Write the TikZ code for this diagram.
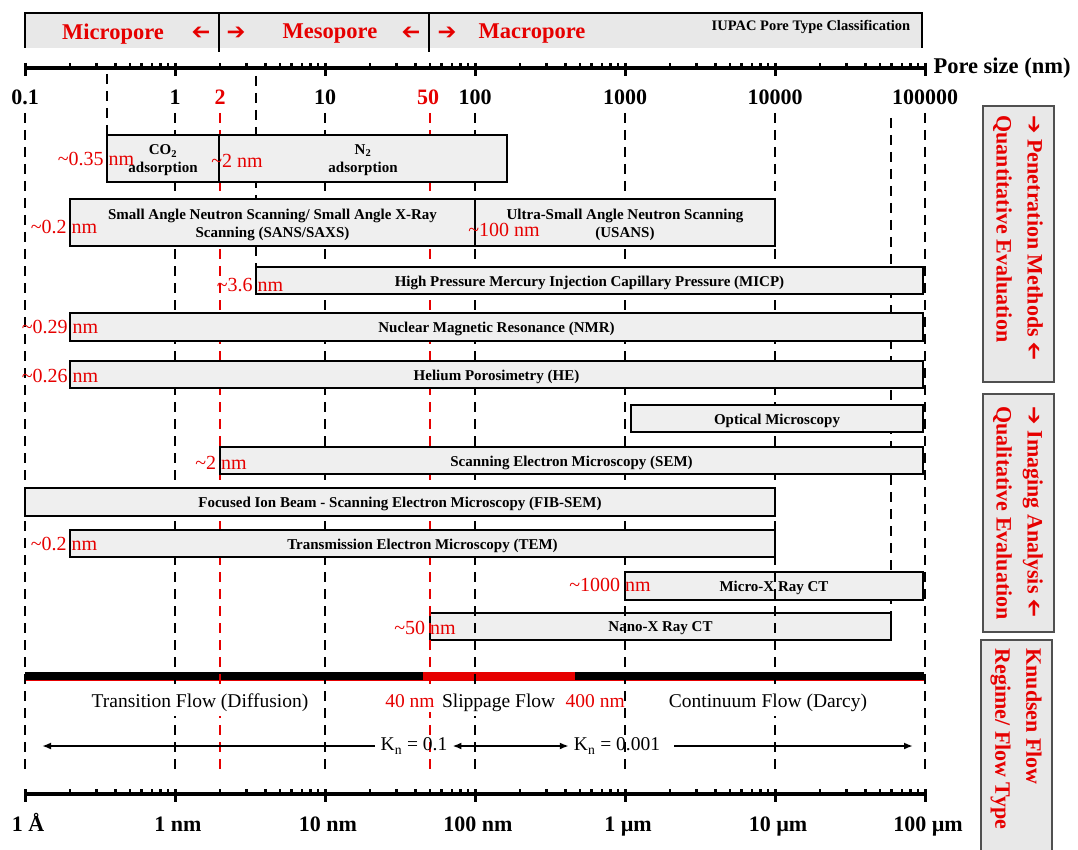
\documentclass[tikz,border=0pt]{standalone}
\usepackage{fontspec}
\usepackage{graphicx}
\setmainfont{Liberation Serif}
\newfontfamily\arrowfont{DejaVu Sans}
\usetikzlibrary{arrows.meta, positioning}

\definecolor{porered}{RGB}{230,0,0}
\definecolor{barfill}{RGB}{239,239,239}
\definecolor{bandfill}{RGB}{232,232,232}
\definecolor{sideedge}{RGB}{80,80,80}

\newcommand{\setfs}[2]{\fontsize{#1}{#2}\selectfont}
\newcommand{\toR}{{\arrowfont ➔}}
\newcommand{\toL}{\reflectbox{\arrowfont ➔}}

\begin{document}
\begin{tikzpicture}[x=1pt, y=-1pt,
    axisline/.style={line width=3.5pt},
    majortick/.style={line width=3pt},
    minortick/.style={line width=2.5pt},
    guide/.style={line width=2.8pt, dash pattern=on 10pt off 7pt},
    bandedge/.style={line width=2.5pt},
    method/.style={draw, line width=2.5pt, fill=barfill},
    methodtext/.style={font=\bfseries\setfs{15}{18}, align=center, inner sep=0pt, yshift=-2pt},
    minsize/.style={text=porered, font=\setfs{20}{24}, inner sep=0pt},
    classtext/.style={text=porered, font=\bfseries\setfs{22.5}{27}},
    scalelbl/.style={font=\bfseries\setfs{22}{26}},
    flowtext/.style={fill=white, font=\setfs{19.5}{24}, inner xsep=2pt, inner ysep=4pt},
    knarrow/.style={line width=2pt, -{Latex[length=9pt, width=7pt]}},
    side/.style={draw=sideedge, line width=1.5pt, fill=bandfill},
    sidetext/.style={text=porered, font=\bfseries\setfs{22}{31}, align=left, rotate=-90, anchor=west},
]
\useasboundingbox (0,0) rectangle (1078,850);

% IUPAC band
\fill[bandfill] (25,13) rectangle (922,48);
\draw[bandedge] (25,48) -- (25,13) -- (922,13) -- (922,48);
\draw[bandedge] (219,13) -- (219,52);
\draw[bandedge] (429,13) -- (429,52);
\node[classtext] (micro) at (113,34) {Micropore};
\node[classtext] (microL) at (201,33) {\toL};
\node[classtext] (mesoR) at (236,33) {\toR};
\node[classtext] (meso) at (330,34) {Mesopore};
\node[classtext] (mesoL) at (411,33) {\toL};
\node[classtext] (macroR) at (447,33) {\toR};
\node[classtext] (macro) at (532,34) {Macropore};
\node[font=\bfseries\setfs{14.5}{17}] (iupac) at (811,27) {IUPAC Pore Type Classification};

% pore size axes
\foreach \ya in {68,794} {
  \draw[axisline] (25,\ya) -- (925,\ya);
  \foreach \k in {0,...,6}
    \draw[majortick] (25+150*\k,\ya-5) -- (25+150*\k,\ya+8);
  \foreach \k in {0,...,5}
    \foreach \m in {2,...,9}
      \draw[minortick] ({25+150*\k+150*log10(\m)},\ya-5) -- ({25+150*\k+150*log10(\m)},\ya);
}
\coordinate (topend) at (925,68);
\node[scalelbl, right=5pt of topend, font=\bfseries\setfs{22.5}{26}] (poresize) {Pore size (nm)};
\foreach \lbl [count=\k from 0] in {0.1,1,10,100,1000,10000,100000}
  \node[scalelbl] (top\k) at (25+150*\k,97) {\lbl};
\node[scalelbl, text=porered] (two) at (220,97) {2};
\node[scalelbl, text=porered] (fifty) at (428,97) {50};
\foreach \lbl [count=\k from 0] in {1 Å,1 nm,10 nm,100 nm,1 µm,10 µm,100 µm}
  \node[scalelbl, anchor=base] (bot\k) at (28+150*\k,831) {\lbl};

% Knudsen flow bar
\draw[line width=9pt, porered] (25,676.5) -- (924,676.5);
\draw[line width=8pt] (25,675.5) -- (423,675.5);
\draw[line width=8pt] (575,675.5) -- (924,675.5);

% guide lines
\draw[guide] (107,74) -- (107,135);
\draw[guide] (256,76) -- (256,267);
\draw[guide] (891,118) -- (891,613);
\draw[method] (625,572) rectangle (923,600) node[midway, methodtext] (microct) {Micro-X Ray CT};
\draw[method] (430,613) rectangle (891,640) node[midway, methodtext] (nanoct) {Nano-X Ray CT};
\foreach \k in {0,...,6}
  \draw[guide] (25+150*\k,113) -- (25+150*\k,773);
\draw[guide, porered] (220,113) -- (220,773);
\draw[guide, porered] (430,113) -- (430,773);

% penetration methods
\draw[method] (107,135) rectangle (219,182) node[midway, methodtext] (co2) {CO\textsubscript{2}\\adsorption};
\draw[method] (219,135) rectangle (507,182) node[midway, methodtext] (nitro) {N\textsubscript{2}\\adsorption};
\draw[method] (70,199) rectangle (475,246) node[midway, methodtext] (sans) {Small Angle Neutron Scanning/ Small Angle X-Ray\\Scanning (SANS/SAXS)};
\draw[method] (475,199) rectangle (775,246) node[midway, methodtext] (usans) {Ultra-Small Angle Neutron Scanning\\(USANS)};
\draw[method] (256,267) rectangle (923,294) node[midway, methodtext] (micp) {High Pressure Mercury Injection Capillary Pressure (MICP)};
\draw[method] (70,313) rectangle (923,341) node[midway, methodtext] (nmr) {Nuclear Magnetic Resonance (NMR)};
\draw[method] (70,361) rectangle (923,388) node[midway, methodtext] (he) {Helium Porosimetry (HE)};

% imaging analysis
\draw[method] (631,405) rectangle (923,432) node[midway, methodtext] (optic) {Optical Microscopy};
\draw[method] (220,447) rectangle (923,474) node[midway, methodtext] (sem) {Scanning Electron Microscopy (SEM)};
\draw[method] (25,488) rectangle (775,516) node[midway, methodtext] (fibsem) {Focused Ion Beam - Scanning Electron Microscopy (FIB-SEM)};
\draw[method] (70,530) rectangle (775,557) node[midway, methodtext] (tem) {Transmission Electron Microscopy (TEM)};

% smallest resolvable pores
\node[minsize] (co2min) at (96,159) {\textasciitilde0.35 nm};
\node[minsize] (nitromin) at (237,161) {\textasciitilde2 nm};
\node[minsize] (sansmin) at (64,227) {\textasciitilde0.2 nm};
\node[minsize] (usansmin) at (504,230) {\textasciitilde100 nm};
\node[minsize] (micpmin) at (250,285) {\textasciitilde3.6 nm};
\node[minsize] (nmrmin) at (60,327) {\textasciitilde0.29 nm};
\node[minsize] (hemin) at (60,376) {\textasciitilde0.26 nm};
\node[minsize] (semmin) at (221,463) {\textasciitilde2 nm};
\node[minsize] (temmin) at (64,544) {\textasciitilde0.2 nm};
\node[minsize] (micromin) at (610,585) {\textasciitilde1000 nm};
\node[minsize] (nanomin) at (425,628) {\textasciitilde50 nm};

% flow regimes
\node[flowtext] (trans) at (200,703) {Transition Flow (Diffusion)};
\node[flowtext, text=porered] (low) at (410,701) {40 nm};
\node[flowtext, base right=3pt of low] (slip) {Slippage Flow};
\node[flowtext, text=porered, fill=none, base right=6pt of slip] (high) {400 nm};
\node[flowtext] (cont) at (768,703) {Continuum Flow (Darcy)};
\node[flowtext, fill=none] (kn1) at (414,746) {K\textsubscript{n} = 0.1};
\node[flowtext, fill=none] (kn2) at (617,746) {K\textsubscript{n} = 0.001};
\coordinate (knleft) at (42,746);
\coordinate (knright) at (913,746);
\draw[knarrow, shorten <=4pt] (kn1) -- (knleft);
\draw[knarrow, {Latex[length=9pt, width=7pt]}-{Latex[length=9pt, width=7pt]}, shorten <=3pt, shorten >=3pt] (kn1) -- (kn2);
\draw[knarrow, shorten <=12pt] (kn2) -- (knright);

% method groups
\draw[side] (983,106) rectangle (1054,382);
\node[sidetext] (pengroup) at (1018,112) {\toR{} Penetration Methods \toL\\Quantitative Evaluation};
\draw[side] (983,394) rectangle (1054,632);
\node[sidetext] (imggroup) at (1018,403) {\toR{} Imaging Analysis \toL\\Qualitative Evaluation};
\draw[side] (981,640) rectangle (1052,860);
\node[sidetext] (flowgroup) at (1016,645) {Knudsen Flow\\Regime/ Flow Type};

\end{tikzpicture}
\end{document}
